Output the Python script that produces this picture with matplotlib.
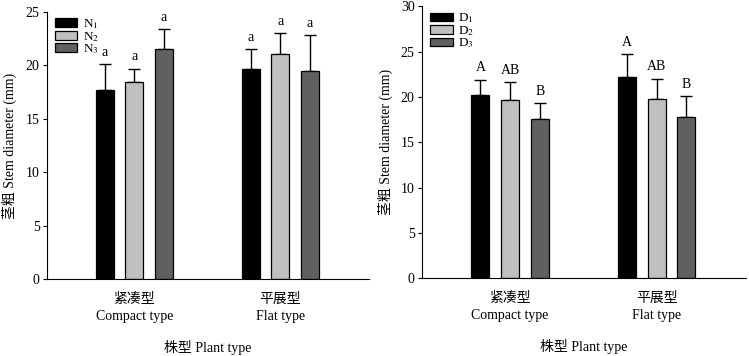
import numpy as np
import matplotlib
matplotlib.use("Agg")
import matplotlib.pyplot as plt

plt.rcParams['font.family'] = ['Liberation Serif', 'Noto Sans CJK SC']
plt.rcParams['mathtext.fontset'] = 'stix'

groups = ['紧凑型\nCompact type', '平展型\nFlat type']
colors = ['#000000', '#c0c0c0', '#606060']

########  left: N treatments  ########
n_labels = ['N$_1$', 'N$_2$', 'N$_3$']
n_mean = [[17.7, 19.7], [18.4, 21.1], [21.5, 19.5]]
n_err = [[2.4, 1.8], [1.3, 1.9], [1.9, 3.3]]
n_sig = [['a', 'a'], ['a', 'a'], ['a', 'a']]

########  right: D treatments  ########
d_labels = ['D$_1$', 'D$_2$', 'D$_3$']
d_mean = [[20.2, 22.2], [19.7, 19.8], [17.6, 17.8]]
d_err = [[1.7, 2.5], [1.9, 2.2], [1.7, 2.3]]
d_sig = [['A', 'A'], ['AB', 'AB'], ['B', 'B']]

fig = plt.figure(figsize=(7.49, 3.56), dpi=100)
ax1 = fig.add_axes([0.0621, 0.2163, 0.4306, 0.75])
ax2 = fig.add_axes([0.563, 0.2183, 0.433, 0.764])

x = np.array([0.0, 1.0])
width = 0.123
step = 0.202


def draw(ax, labels, mean, err, sig, ylim, yticks):
    for i in range(3):
        pos = x + (i - 1) * step
        ax.bar(pos, mean[i], width, color=colors[i], edgecolor='black', linewidth=0.9,
               label=labels[i], zorder=2)
        ax.errorbar(pos, mean[i], yerr=[[0, 0], err[i]], fmt='none', ecolor='black',
                    elinewidth=1.0, capsize=4, capthick=1.0, zorder=1)
        for j in range(2):
            ax.annotate(sig[i][j], (pos[j], mean[i][j] + err[i][j]), xytext=(0, 4),
                        textcoords='offset points', ha='center', va='bottom', fontsize=10)
    ax.set_xlim(-0.603, 1.61)
    ax.set_ylim(*ylim)
    ax.set_yticks(yticks)
    ax.set_xticks(x)
    ax.set_xticklabels(groups, fontsize=10, linespacing=1.4)
    ax.tick_params(axis='x', length=0, pad=10)
    ax.tick_params(axis='y', direction='out', length=3, labelsize=10, pad=2)
    ax.spines['top'].set_visible(False)
    ax.spines['right'].set_visible(False)
    ax.set_ylabel('茎粗 Stem diameter (mm)', fontsize=10, labelpad=6)
    ax.set_xlabel('株型 Plant type', fontsize=10, labelpad=12)
    ax.legend(loc='upper left', bbox_to_anchor=(0.01, 1.0), frameon=False, fontsize=9.5,
              handlelength=1.7, handleheight=0.65, labelspacing=-0.1, handletextpad=0.4,
              borderaxespad=0.0, borderpad=0.4)


draw(ax1, n_labels, n_mean, n_err, n_sig, (0, 25), [0, 5, 10, 15, 20, 25])
draw(ax2, d_labels, d_mean, d_err, d_sig, (0, 30), [0, 5, 10, 15, 20, 25, 30])

plt.savefig('out.png', dpi=100)
